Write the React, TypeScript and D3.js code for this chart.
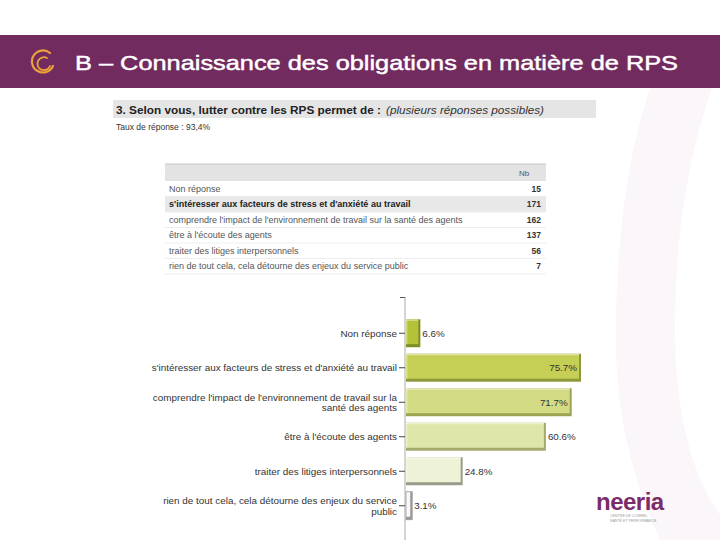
import React from "react";
import * as d3 from "d3";

const title = "B – Connaissance des obligations en matière de RPS";
const question = "3. Selon vous, lutter contre les RPS permet de :";
const questionNote = "(plusieurs réponses possibles)";
const responseRate = "Taux de réponse : 93,4%";

const tableLabels = [
  "Non réponse",
  "s'intéresser aux facteurs de stress et d'anxiété au travail",
  "comprendre l'impact de l'environnement de travail sur la santé des agents",
  "être à l'écoute des agents",
  "traiter des litiges interpersonnels",
  "rien de tout cela, cela détourne des enjeux du service public",
];
const counts = [15, 171, 162, 137, 56, 7];

const chartLabels = [
  ["Non réponse"],
  ["s'intéresser aux facteurs de stress et d'anxiété au travail"],
  ["comprendre l'impact de l'environnement de travail sur la", "santé des agents"],
  ["être à l'écoute des agents"],
  ["traiter des litiges interpersonnels"],
  ["rien de tout cela, cela détourne des enjeux du service", "public"],
];
const percents = [6.6, 75.7, 71.7, 60.6, 24.8, 3.1];
const percentLabels = ["6.6%", "75.7%", "71.7%", "60.6%", "24.8%", "3.1%"];
const insideLabel = [false, true, true, false, false, false];
const barFills = ["#b3c238", "#c6cf55", "#d3dc84", "#dfe6a9", "#eef2d6", "#f8f8f8"];
const barEdges = ["#7f8c24", "#8e983a", "#9ba353", "#a4aa6c", "#9a9c8a", "#9a9a9a"];

const FONT = "'Liberation Sans', Arial, sans-serif";

export default function App() {
  const x = d3.scaleLinear().domain([0, 100]).range([405, 637.5]);
  const y = d3
    .scaleBand<number>()
    .domain(d3.range(percents.length))
    .range([316, 523])
    .paddingInner(0.19)
    .paddingOuter(0.095);
  const bh = y.bandwidth();

  const rowY = d3.scaleBand<number>().domain(d3.range(tableLabels.length)).range([181, 274]);

  return (
    <svg
      width={720}
      height={540}
      style={{ position: "absolute", left: 0, top: 0, background: "#fff" }}
      fontFamily={FONT}
    >
      {/* decorative background curve */}
      <path
        d="M650,88 L712,88 C690,150 675,230 675,330 C675,420 695,480 720,515 L720,540 L660,540 C628,470 614,400 616,320 C618,220 630,150 650,88 Z"
        fill="#faf6f9"
      />
      {/* header band */}
      <rect x={0} y={35} width={720} height={53} fill="#722b5f" />
      <g fill="none" stroke="#eba23a" strokeLinecap="round">
        <path d="M50,53 A11,11 0 1 0 53,66" strokeWidth={2.2} />
        <path d="M47,58 A6.5,6.5 0 1 0 50,66" strokeWidth={1.8} />
      </g>
      <text
        x={75}
        y={70}
        fill="#fff"
        stroke="#fff"
        strokeWidth={0.45}
        fontSize={21}
        textLength={603}
        lengthAdjust="spacingAndGlyphs"
      >
        {title}
      </text>

      {/* question */}
      <rect x={113} y={100} width={483} height={18} fill="#e5e5e5" />
      <text x={116} y={114} fontSize={11.5} fontWeight="bold" fill="#222" textLength={265} lengthAdjust="spacingAndGlyphs">
        {question}
      </text>
      <text x={386} y={114} fontSize={11} fontStyle="italic" fill="#333" textLength={158} lengthAdjust="spacingAndGlyphs">
        {questionNote}
      </text>
      <text x={116} y={130} fontSize={8.5} fill="#333">
        {responseRate}
      </text>

      {/* table */}
      <rect x={165} y={164} width={381} height={17} fill="#e3e3e3" />
      <line x1={165} x2={546} y1={164} y2={164} stroke="#c8c8c8" />
      <text x={524} y={176} fontSize={8} fill="#555" textAnchor="middle">
        Nb
      </text>
      {tableLabels.map((t, i) => {
        const ry = rowY(i)!;
        const h = rowY.bandwidth();
        return (
          <g key={t}>
            {i === 1 && <rect x={165} y={ry} width={381} height={h} fill="#e8e8e8" />}
            <line x1={165} x2={546} y1={ry + h} y2={ry + h} stroke="#eeeeee" />
            <text
              x={169}
              y={ry + h / 2 + 3}
              fontSize={9}
              fill={i === 1 ? "#222" : "#555"}
              fontWeight={i === 1 ? "bold" : "normal"}
            >
              {t}
            </text>
            <text x={541} y={ry + h / 2 + 3} fontSize={8.5} fill="#333" fontWeight="bold" textAnchor="end">
              {counts[i]}
            </text>
          </g>
        );
      })}

      {/* chart axis */}
      <line x1={405} x2={405} y1={297} y2={540} stroke="#aaa" />
      <line x1={400} x2={405} y1={297.5} y2={297.5} stroke="#555" />
      {percents.map((v, i) => {
        const top = y(i)!;
        const cy = top + bh / 2;
        const w = x(v) - x(0);
        const x0 = x(0);
        const lines = chartLabels[i];
        return (
          <g key={i}>
            <line x1={399} x2={405} y1={cy} y2={cy} stroke="#444" />
            {lines.map((l, k) => (
              <text
                key={k}
                x={397}
                y={cy + 3.5 + (k - (lines.length - 1) / 2) * 10.5}
                fontSize={9.9}
                fill="#333"
                textAnchor="end"
              >
                {l}
              </text>
            ))}
            {/* bevelled bar */}
            <rect x={x0 + 1} y={top} width={w - 1} height={bh} fill={barEdges[i]} />
            <rect x={x0 + 1} y={top} width={w - 3} height={bh - 3} fill={barFills[i]} />
            <rect x={x0 + 1} y={top} width={w - 3} height={1.5} fill="#ffffff" opacity={0.45} />
            <rect x={x0 + 1} y={top} width={1.5} height={bh - 3} fill="#ffffff" opacity={0.35} />
            {i === 5 && (
              <rect x={x0 + 1} y={top} width={w - 1} height={bh} fill="none" stroke="#999" strokeWidth={0.8} />
            )}
            <text
              x={insideLabel[i] ? x(v) - 4 : x(v) + 2}
              y={cy + 3.5}
              fontSize={9.8}
              fill="#333"
              textAnchor={insideLabel[i] ? "end" : "start"}
            >
              {percentLabels[i]}
            </text>
          </g>
        );
      })}

      {/* logo */}
      <text x={596} y={510} fontSize={24} fontWeight="bold" fill="#7b2c68" letterSpacing={-0.5}>
        neeria
      </text>
      <text x={610} y={517} fontSize={3.6} fill="#999">
        CENTRE DE CONSEIL
      </text>
      <text x={610} y={522} fontSize={3.6} fill="#999">
        SANTÉ ET PERFORMANCE
      </text>
    </svg>
  );
}
